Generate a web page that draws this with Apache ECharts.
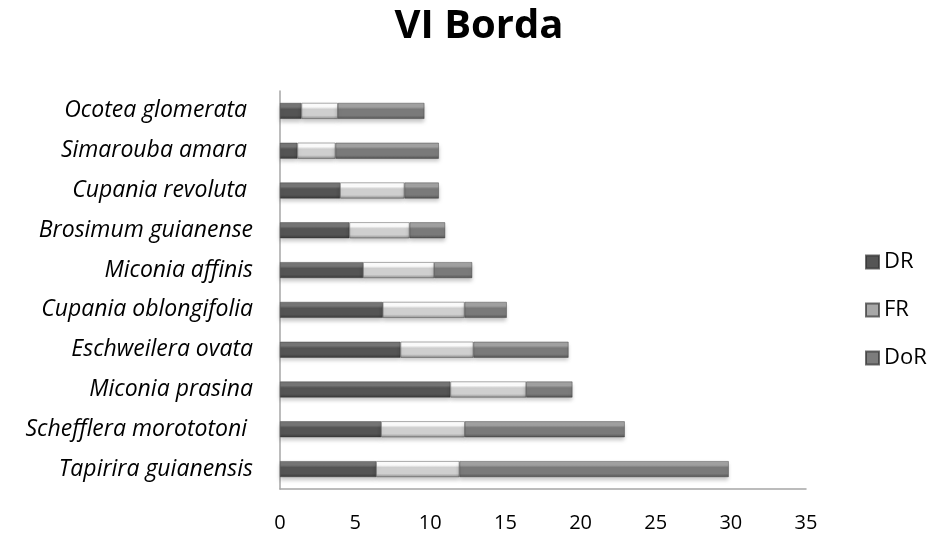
<!DOCTYPE html>
<html>
<head>
<meta charset="utf-8">
<script src="https://cdn.jsdelivr.net/npm/echarts@6/dist/echarts.min.js"></script>
<style>
    html, body { margin: 0; padding: 0; background: #fff; }
    #chart { width: 931px; height: 534px; }
</style>
</head>
<body>
<div id="chart"></div>
<script>
// 物种 (top to bottom)
const species = ['Ocotea glomerata ', 'Simarouba amara ', 'Cupania revoluta ', 'Brosimum guianense',
    'Miconia affinis', 'Cupania oblongifolia', 'Eschweilera ovata', 'Miconia prasina',
    'Schefflera morototoni ', 'Tapirira guianensis'];
const drValues = [1.43, 1.16, 4.0, 4.62, 5.53, 6.84, 8.02, 11.34, 6.73, 6.4];
const frValues = [2.42, 2.53, 4.28, 4.0, 4.73, 5.44, 4.85, 5.04, 5.57, 5.54];
const doRValues = [5.76, 6.88, 2.29, 2.37, 2.53, 2.81, 6.33, 3.08, 10.64, 17.92];
const xTicks = [0, 5, 10, 15, 20, 25, 30, 35];

const font = 'Open Sans';

function bevel(top, mid, bottom) {
    return new echarts.graphic.LinearGradient(0, 0, 0, 1, [
        { offset: 0, color: top },
        { offset: 0.25, color: top },
        { offset: 0.4, color: mid },
        { offset: 0.78, color: mid },
        { offset: 1, color: bottom }
    ]);
}

const seriesDefs = [
    { name: 'DR', data: drValues, color: bevel('#767676', '#545454', '#3a3a3a'), icon: '#555555' },
    { name: 'FR', data: frValues, color: bevel('#fdfdfd', '#cfcfcf', '#909090'), icon: '#a8a8a8' },
    { name: 'DoR', data: doRValues, color: bevel('#a2a2a2', '#7a7a7a', '#555555'), icon: '#7c7c7c' }
];

const chart = echarts.init(document.getElementById('chart'));
chart.setOption({
    animation: false,
    title: {
        text: 'VI Borda',
        left: 474,
        top: 2,
        textAlign: 'center',
        textStyle: { fontFamily: font, fontWeight: 'bold', fontSize: 40, color: '#000' }
    },
    legend: {
        orient: 'vertical',
        left: 860,
        top: 243,
        itemWidth: 13,
        itemHeight: 13,
        itemGap: 20,
        icon: 'rect',
        textStyle: { fontFamily: font, fontSize: 22, color: '#000', lineHeight: 28 },
        data: seriesDefs.map(s => ({ name: s.name, itemStyle: { color: s.icon } }))
    },
    grid: {
        left: 280,
        right: 125,
        top: 91,
        bottom: 45,
        containLabel: false
    },
    xAxis: {
        type: 'value',
        min: 0,
        max: 35,
        interval: 5,
        axisLine: { show: true, lineStyle: { color: '#a6a6a6', width: 1.5 } },
        axisTick: { show: false },
        splitLine: { show: false },
        axisLabel: {
            margin: 24,
            fontFamily: font, fontSize: 20, color: '#000',
            formatter: v => xTicks.includes(v) ? String(v) : ''
        }
    },
    yAxis: {
        type: 'category',
        inverse: true,
        data: species,
        axisLine: { show: true, lineStyle: { color: '#a6a6a6', width: 1.5 } },
        axisTick: { show: false },
        axisLabel: {
            margin: 27,
            fontFamily: font, fontSize: 23, fontStyle: 'italic', color: '#000'
        }
    },
    series: seriesDefs.map(s => ({
        name: s.name,
        type: 'bar',
        stack: 'total',
        barWidth: 16,
        data: s.data,
        itemStyle: {
            color: s.color,
            borderColor: 'rgba(50,50,50,0.7)',
            borderWidth: 0.6,
            shadowColor: 'rgba(0,0,0,0.22)',
            shadowBlur: 4,
            shadowOffsetY: 3
        }
    }))
});
</script>
</body>
</html>
